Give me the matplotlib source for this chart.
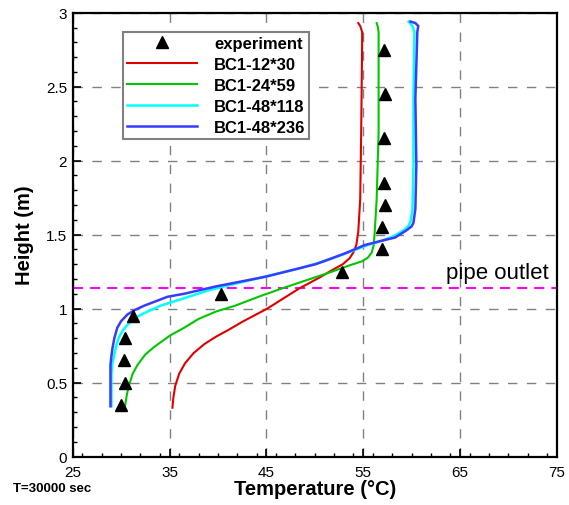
import matplotlib.pyplot as plt
from matplotlib.ticker import MultipleLocator, FormatStrFormatter

plt.rcParams['font.family'] = ['Liberation Sans', 'DejaVu Sans']

# experiment points
exp_T = [30.0, 30.4, 30.3, 30.4, 31.2, 40.3, 52.8, 56.9, 57.0, 57.3, 57.2, 57.2, 57.3, 57.2]
exp_h = [0.35, 0.50, 0.65, 0.80, 0.95, 1.10, 1.25, 1.40, 1.55, 1.70, 1.85, 2.15, 2.45, 2.75]

# BC1-12*30
red_T = [35.3, 35.4, 35.6, 36.0, 36.6, 37.5, 38.6, 39.8, 41.2, 42.5, 45.1, 48.4, 50.5, 51.8, 52.9,
         53.6, 54.0, 54.3, 54.5, 54.6, 54.7, 54.8, 54.9, 54.9, 54.7, 54.5]
red_h = [0.33, 0.40, 0.48, 0.56, 0.63, 0.70, 0.76, 0.81, 0.86, 0.91, 1.00, 1.136, 1.21, 1.26, 1.30,
         1.34, 1.38, 1.43, 1.52, 1.63, 1.74, 2.19, 2.80, 2.87, 2.91, 2.93]

# BC1-24*59
green_T = [30.4, 30.6, 30.8, 31.2, 31.7, 32.5, 33.4, 35.1, 36.5, 38.0, 39.8, 41.8, 44.2, 46.6, 49.3,
           51.8, 53.5, 54.9, 55.5, 55.9, 56.1, 56.2, 56.4, 56.6, 56.6, 56.5, 56.4]
green_h = [0.34, 0.42, 0.48, 0.56, 0.62, 0.69, 0.74, 0.82, 0.87, 0.93, 0.98, 1.02, 1.08, 1.136, 1.195,
           1.25, 1.29, 1.32, 1.345, 1.38, 1.43, 1.52, 1.74, 2.19, 2.87, 2.91, 2.93]

# BC1-48*118
cyan_T = [29.0, 29.0, 29.1, 29.3, 29.5, 29.8, 30.2, 30.65, 31.4, 32.4, 34.1, 36.5, 39.1, 43.2, 48.3,
          51.0, 53.5, 55.5, 57.0, 58.0, 58.7, 59.3, 59.7, 59.9, 60.0, 60.1, 60.2, 60.2, 60.3, 60.1, 59.7]
cyan_h = [0.34, 0.55, 0.63, 0.69, 0.75, 0.81, 0.855, 0.89, 0.935, 0.97, 1.02, 1.07, 1.125, 1.19, 1.27,
          1.32, 1.38, 1.43, 1.46, 1.485, 1.51, 1.535, 1.56, 1.59, 1.63, 1.675, 1.97, 2.42, 2.87, 2.91, 2.94]

# BC1-48*236
blue_T = [28.9, 28.9, 29.0, 29.1, 29.3, 29.6, 30.0, 30.65, 31.4, 32.4, 34.8, 36.5, 39.8, 44.9, 50.1,
          53.0, 55.2, 57.0, 58.3, 59.5, 60.0, 60.2, 60.4, 60.5, 60.4, 60.6, 60.7, 60.4, 59.9]
blue_h = [0.34, 0.62, 0.68, 0.73, 0.80, 0.87, 0.915, 0.96, 0.99, 1.02, 1.08, 1.10, 1.15, 1.215, 1.30,
          1.37, 1.43, 1.46, 1.48, 1.53, 1.555, 1.58, 1.675, 1.97, 2.42, 2.87, 2.91, 2.93, 2.94]

pipe_outlet = 1.137

fig = plt.figure(figsize=(5.69, 5.06), dpi=100)
ax = fig.add_axes([0.1278, 0.0958, 0.8506, 0.8771])

ax.plot(red_T, red_h, color='#e00000', lw=1.5, label='BC1-12*30', zorder=3)
ax.plot(green_T, green_h, color='#00c800', lw=1.5, label='BC1-24*59', zorder=3)
ax.plot(cyan_T, cyan_h, color='#00ffff', lw=1.8, label='BC1-48*118', zorder=3)
ax.plot(blue_T, blue_h, color='#3a3aff', lw=1.8, label='BC1-48*236', zorder=3)
ax.plot(exp_T, exp_h, '^', color='black', ms=9, linestyle='none', label='experiment', zorder=4)

ax.axhline(pipe_outlet, color='#ff00ff', lw=1.5, linestyle=(0, (4.8, 3.4)), zorder=2)
ax.text(74.2, pipe_outlet + 0.035, 'pipe outlet', fontsize=16, ha='right', va='bottom')

ax.set_xlim(25, 75)
ax.set_ylim(0, 3)
ax.xaxis.set_minor_locator(MultipleLocator(2))
ax.yaxis.set_major_locator(MultipleLocator(0.5))
ax.yaxis.set_minor_locator(MultipleLocator(0.1))
ax.yaxis.set_major_formatter(FormatStrFormatter('%g'))
ax.set_xticks([25, 35, 45, 55, 65, 75])
ax.grid(True, which='major', color='#808080', lw=1.0, linestyle=(0, (6.8, 6.8)))
ax.tick_params(which='both', direction='in', labelsize=11)
ax.tick_params(which='major', length=6, width=1.2)
ax.tick_params(which='minor', length=3, width=1.0)
ax.tick_params(axis='x', pad=6)
ax.tick_params(axis='y', pad=4)
for s in ax.spines.values():
    s.set_linewidth(1.6)

ax.set_xlabel('Temperature (°C)', fontsize=14.5, fontweight='bold')
ax.set_ylabel('Height (m)', fontsize=14.5, fontweight='bold')
ax.xaxis.set_label_coords(0.5, -0.05)
ax.yaxis.set_label_coords(-0.08, 0.5)

h, l = ax.get_legend_handles_labels()
order = [4, 0, 1, 2, 3]
leg = ax.legend([h[i] for i in order], [l[i] for i in order], loc='upper left',
                bbox_to_anchor=(0.104, 0.9565), borderaxespad=0, fancybox=False,
                framealpha=1, edgecolor='#808080', numpoints=1,
                prop={'size': 12, 'weight': 'bold'}, handlelength=4.2,
                handletextpad=1.0, labelspacing=0.36, borderpad=0.25)
leg.get_frame().set_linewidth(1.5)

fig.text(0.023, 1 - 489.5 / 506, 'T=30000 sec', fontsize=9.5, fontweight='bold', va='center')

fig.savefig('out.png', dpi=100)
